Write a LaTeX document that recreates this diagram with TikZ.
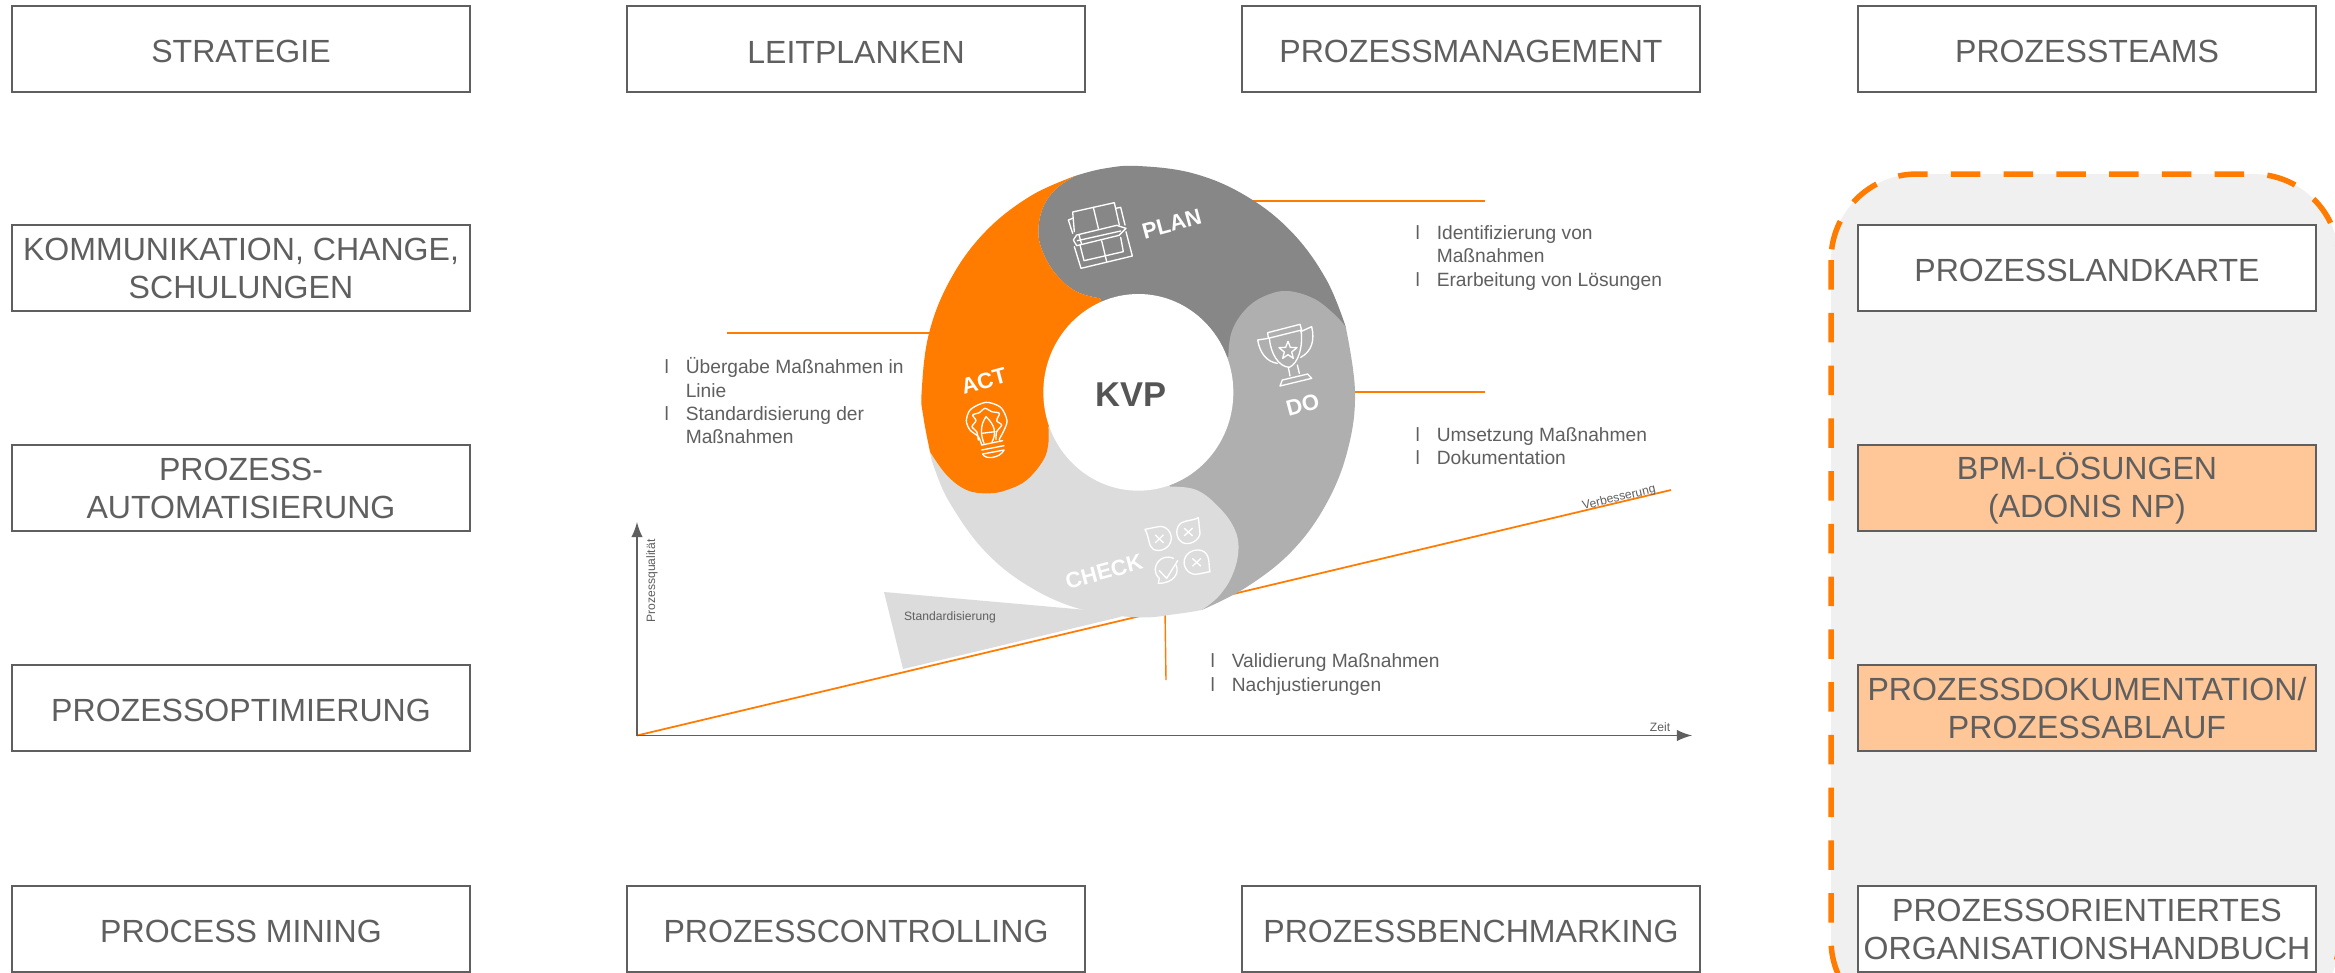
\documentclass[tikz,border=0pt]{standalone}
\usepackage{fontspec}
\setmainfont{Liberation Sans}
\usetikzlibrary{calc}
\definecolor{kvporange}{HTML}{FF7C00}
\definecolor{kvpplan}{HTML}{878787}
\definecolor{kvpdo}{HTML}{AFAFAF}
\definecolor{kvpcheck}{HTML}{DCDCDC}
\definecolor{kvptext}{HTML}{5F5F5F}
\definecolor{kvppeach}{HTML}{FFC797}
\definecolor{kvppanel}{HTML}{F0F0F0}
\newcommand{\baritem}[1]{\makebox[6pt][l]{l}#1}
\newcommand{\baridle}[1]{\hspace*{6pt}#1}
\tikzset{
    procbox/.style={draw=kvptext, line width=0.65pt, fill=white, text=kvptext, align=center,
        minimum width=4.58cm, minimum height=0.86cm, inner sep=0pt,
        execute at begin node={\rule{0pt}{8pt}},
        font=\fontsize{9.12}{10.8}\selectfont},
    peachbox/.style={procbox, fill=kvppeach},
    bodytext/.style={text=kvptext, align=left, anchor=west, inner sep=0pt,
        font=\fontsize{5.46}{6.64}\selectfont},
    tinytext/.style={text=kvptext, inner sep=0pt, font=\fontsize{3.45}{4}\selectfont},
    phasetext/.style={text=white, inner sep=0pt, rotate=15, font=\bfseries\fontsize{6.3}{7}\selectfont},
    leader/.style={kvporange, line width=0.4pt},
    axisline/.style={kvptext, line width=0.5pt},
    icon/.style={white, line width=0.38pt, line join=round, line cap=round},
    curvy/.style={smooth, tension=0.65},
}

\begin{document}
\begin{tikzpicture}[x=0.01cm, y=-0.01cm]
    \clip (0,0) rectangle (2335,972);
    \fill[white] (0,0) rectangle (2335,972);

    % dashed panel behind the right column
    \draw[kvporange, fill=kvppanel, line width=1.56pt, dash pattern=on 21\pgflinewidth/3.9 off 16.5\pgflinewidth/3.9, rounded corners=0.86cm]
        (1831,174) rectangle (2339,1026);

    % column heads
    \node[procbox] (strategie) at (241,49) {STRATEGIE};
    \node[procbox] (leitplanken) at (856,49) {LEITPLANKEN};
    \node[procbox] (management) at (1471,49) {PROZESSMANAGEMENT};
    \node[procbox] (teams) at (2087,49) {PROZESSTEAMS};

    % left column
    \node[procbox] (kommunikation) at (241,268) {KOMMUNIKATION, CHANGE,\\SCHULUNGEN};
    \node[procbox] (automatisierung) at (241,488) {PROZESS-\\AUTOMATISIERUNG};
    \node[procbox] (optimierung) at (241,708) {PROZESSOPTIMIERUNG};
    \node[procbox] (mining) at (241,929) {PROCESS MINING};

    % bottom row
    \node[procbox] (controlling) at (856,929) {PROZESSCONTROLLING};
    \node[procbox] (benchmarking) at (1471,929) {PROZESSBENCHMARKING};

    % right column
    \node[procbox] (landkarte) at (2087,268) {PROZESSLANDKARTE};
    \node[peachbox] (loesungen) at (2087,488) {BPM-LÖSUNGEN\\(ADONIS NP)};
    \node[peachbox] (ablauf) at (2087,708) {PROZESSDOKUMENTATION/\\PROZESSABLAUF};
    \node[procbox] (handbuch) at (2087,929) {PROZESSORIENTIERTES\\ORGANISATIONSHANDBUCH};

    % chart axes
    \coordinate (O) at (637,735.5);
    \coordinate (Ytop) at (637,522);
    \coordinate (Xend) at (1692,735.5);
    \coordinate (Trend) at (1671,490);
    \fill[kvpcheck] (884,592) -- (1087,610) -- (1125,612) -- (1120,617) -- (903,669) -- cycle;
    \draw[leader, line width=0.5pt] (O) -- (Trend);
    \draw[axisline, -latex] (O) -- (Ytop);
    \draw[axisline, -latex] (O) -- (Xend);
    \node[tinytext, rotate=90] (quality) at (652,581) {Prozessqualität};
    \node[tinytext] (zeit) at (1660,727) {Zeit};
    \node[tinytext, rotate=13.4] (better) at (1619,498) {Verbesserung};
    \node[tinytext] (standard) at (950,617) {Standardisierung};

    % leader lines
    \coordinate (Lplan) at (1240,201);
    \coordinate (Lplanend) at (1485,201);
    \coordinate (Ldo) at (1350,392);
    \coordinate (Ldoend) at (1485,392);
    \coordinate (Lact) at (727,333);
    \coordinate (Lactend) at (935,333);
    \coordinate (Lcheck) at (1165,610);
    \coordinate (Lcheckend) at (1166,680);
    \draw[leader] (Lplan) -- (Lplanend);
    \draw[leader] (Ldo) -- (Ldoend);
    \draw[leader] (Lact) -- (Lactend);
    \draw[leader] (Lcheck) -- (Lcheckend);

    % cycle, drawn in the frame of the close-up
    \begin{scope}[shift={(880,150)}, x=0.01cm/3, y=-0.01cm/3]

        % plan
        \fill[kvpplan] plot[curvy] coordinates {(660,445) (590,425) (530,375) (490,310) (475,245) (490,170) (530,115) (585,78)}
            -- plot[curvy] coordinates {(585,78) (670,56) (775,48) (943,71) (1100,139) (1235,246) (1338,387) (1397,530)}
            -- (1200,700) -- (775,725) -- cycle;

        % do
        \fill[kvpdo] plot[curvy] coordinates {(1045,620) (1055,545) (1095,480) (1150,440) (1220,423) (1300,445) (1360,490) (1397,530)}
            -- plot[curvy] coordinates {(1397,530) (1425,725) (1403,900) (1338,1063) (1235,1204) (1100,1311) (965,1380)}
            -- (800,1100) -- (775,725) -- cycle;

        % check
        \fill[kvpcheck] plot[curvy] coordinates {(870,1010) (950,1020) (1020,1075) (1065,1140) (1075,1205) (1055,1280) (1015,1340) (965,1380)}
            -- plot[curvy] coordinates {(965,1380) (888,1392) (775,1402) (607,1379) (450,1311) (315,1204) (212,1063) (164,957) (150,905)}
            -- (325,900) -- (775,725) -- cycle;

        % act
        \fill[kvporange] plot[curvy] coordinates {(505,830) (505,880) (490,930) (440,990) (380,1020) (325,1030) (260,1020) (200,975) (150,905)}
            -- plot[curvy] coordinates {(150,905) (130,800) (125,725) (147,550) (212,387) (315,246) (450,139) (585,78)}
            -- plot[curvy] coordinates {(585,78) (530,115) (490,170) (475,245) (490,310) (530,375) (590,425) (660,445)}
            -- (775,725) -- cycle;

        % centre
        \fill[white] (775,727) ellipse (285 and 295);

        % plan icon
        \draw[icon] (583,245) -- (578,186) -- (703,158) -- (718,225);
        \draw[icon] (640,172) -- (655,235);
        \draw[icon] (578,250) -- (565,210) -- (578,205);
        \draw[icon] (707,175) -- (722,172) -- (735,225);
        \draw[icon] (590,255) -- (710,226) -- (738,235) -- (717,256) -- (590,287) -- (580,270) -- cycle;
        \draw[icon] (597,255) -- (605,283);
        \draw[icon] (592,272) -- (722,243);
        \draw[icon] (583,290) -- (603,355) -- (757,318) -- (738,245);
        \draw[icon] (600,285) -- (612,332) -- (730,305) -- (722,262);
        \draw[icon] (665,272) -- (680,335);

        % do icon
        \draw[icon] (1163,548) -- (1260,523) -- (1265,540) -- (1165,565) -- cycle;
        \draw[icon] (1168,565) .. controls (1172,610) and (1195,650) .. (1228,652) .. controls (1255,640) and (1270,590) .. (1263,540);
        \draw[icon] (1165,565) -- (1133,570) .. controls (1140,610) and (1160,635) .. (1192,640);
        \draw[icon] (1262,545) -- (1295,530) .. controls (1305,570) and (1295,605) .. (1262,622);
        \draw[icon] (1225,652) -- (1230,678);
        \draw[icon] (1252,645) -- (1258,670);
        \draw[icon] (1207,690) -- (1283,672) -- (1295,685) -- (1200,708) -- cycle;
        \draw[icon] (1224,574) -- (1231,592) -- (1251,593) -- (1235,606) -- (1240,625) -- (1224,614) -- (1208,625) -- (1213,606) -- (1197,593) -- (1217,592) -- cycle;

        % act icon
        \draw[icon] plot[smooth] coordinates {(305,885) (295,860) (270,840) (259,812) (272,778) (318,757) (362,772) (381,812) (370,845) (358,868) (362,875)};
        \draw[icon] (305,885) -- (368,872);
        \draw[icon] (305,900) -- (372,887);
        \draw[icon] (308,912) -- (372,900);
        \draw[icon] (308,912) .. controls (315,930) and (360,925) .. (372,900);
        \draw[icon] plot[smooth] coordinates {(295,870) (290,845) (276,830) (288,812) (278,795) (298,788) (315,775) (335,785) (358,790) (350,812) (365,825) (350,845) (348,868)};
        \draw[icon] (318,800) .. controls (300,825) and (302,855) .. (312,880);
        \draw[icon] (318,800) .. controls (345,825) and (350,850) .. (336,876);
        \draw[icon] (305,850) -- (345,845);

        % check icon
        \draw[icon] (795,1138) -- (835,1130) .. controls (860,1125) and (878,1150) .. (873,1172) .. controls (868,1195) and (840,1208) .. (820,1198) .. controls (805,1190) and (808,1160) .. cycle;
        \draw[icon] (826,1155) -- (850,1178);
        \draw[icon] (850,1155) -- (826,1178);
        \draw[icon] (955,1103) -- (960,1150) .. controls (958,1170) and (930,1188) .. (908,1178) .. controls (885,1165) and (885,1130) .. (905,1118) .. controls (920,1110) and (940,1112) .. cycle;
        \draw[icon] (913,1135) -- (937,1157);
        \draw[icon] (937,1135) -- (913,1157);
        \draw[icon] (990,1265) -- (955,1272) .. controls (930,1278) and (908,1255) .. (913,1230) .. controls (918,1205) and (950,1192) .. (972,1205) .. controls (992,1218) and (985,1250) .. cycle;
        \draw[icon] (938,1226) -- (962,1248);
        \draw[icon] (962,1226) -- (938,1248);
        \draw[icon] (835,1300) -- (838,1285) .. controls (820,1270) and (822,1240) .. (845,1226) .. controls (860,1218) and (875,1222) .. (880,1225);
        \draw[icon] (888,1245) .. controls (900,1270) and (880,1300) .. (835,1300);
        \draw[icon] (838,1262) -- (860,1285) -- (893,1232);

        % phase labels
        \node[phasetext] (plan) at (875,222) {PLAN};
        \node[phasetext] (act) at (312,693) {ACT};
        \node[phasetext] (do) at (1268,765) {DO};
        \node[phasetext] (check) at (672,1265) {CHECK};
        \node[text=kvptext!90!black, inner sep=0pt, font=\bfseries\fontsize{9.8}{11}\selectfont] (kvp) at (752,735) {KVP};
    \end{scope}

    % measures
    \node[bodytext] (planitems) at (1415,258) {\baritem{Identifizierung von}\\\baridle{Maßnahmen}\\\baritem{Erarbeitung von Lösungen}};
    \node[bodytext] (doitems) at (1415,446) {\baritem{Umsetzung Maßnahmen}\\\baritem{Dokumentation}};
    \node[bodytext] (checkitems) at (1210,674.5) {\baritem{Validierung Maßnahmen}\\\baritem{Nachjustierungen}};
    \node[bodytext] (actitems) at (664,401) {\baritem{Übergabe Maßnahmen in}\\\baridle{Linie}\\\baritem{Standardisierung der}\\\baridle{Maßnahmen}};
\end{tikzpicture}
\end{document}
